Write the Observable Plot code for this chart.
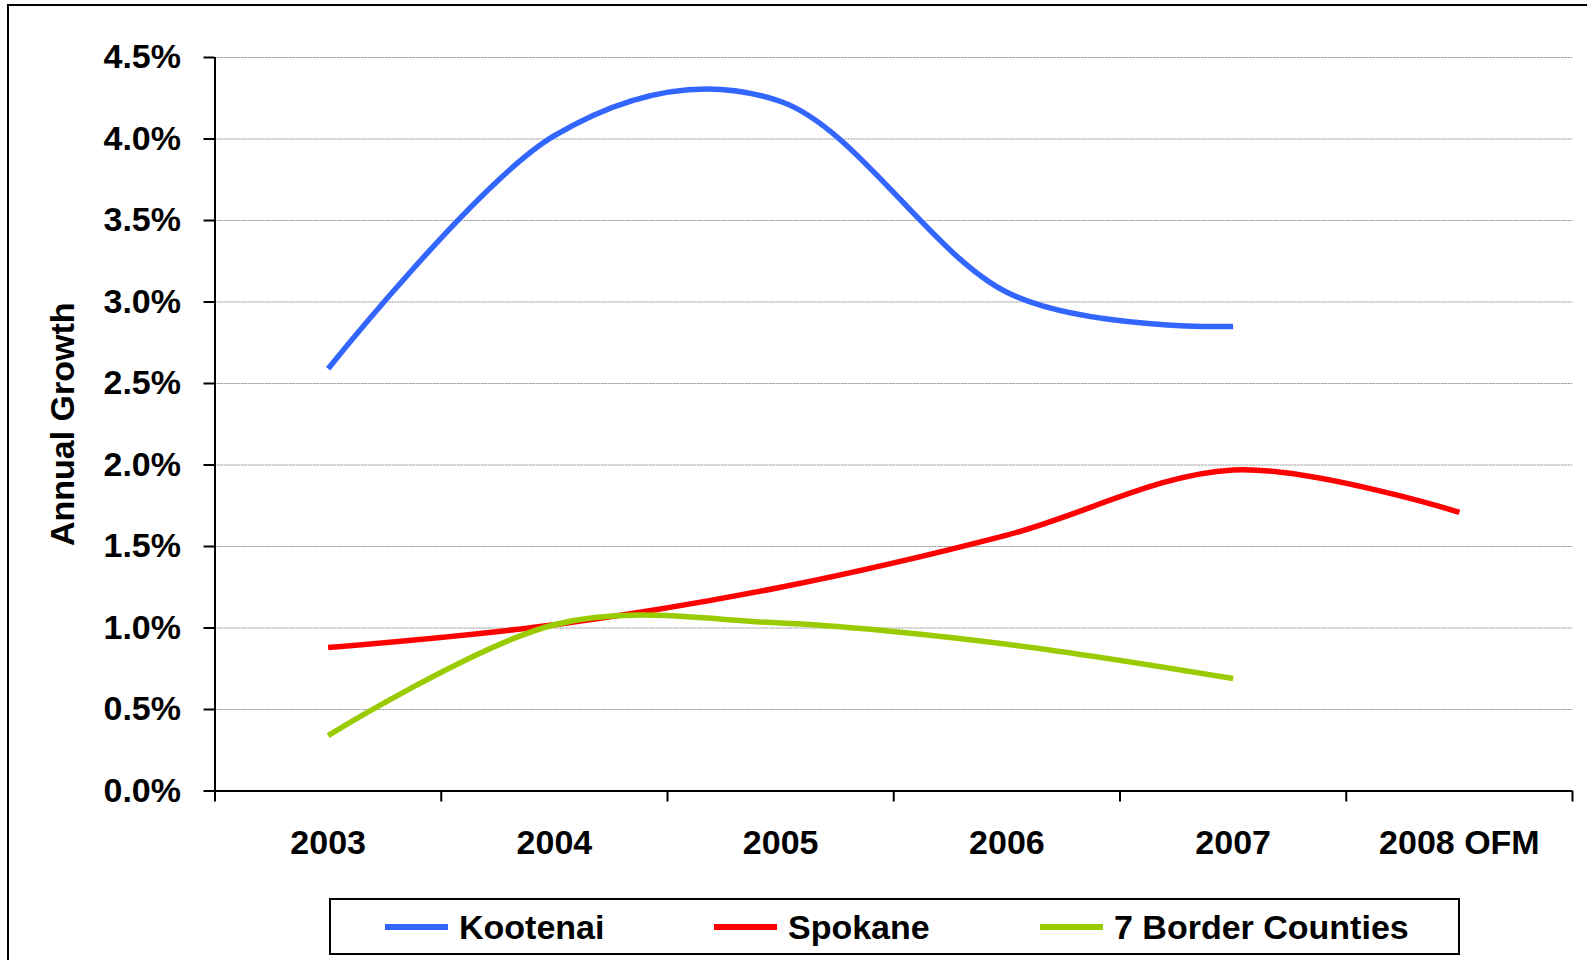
<!DOCTYPE html>
<html>
<head>
<meta charset="utf-8">
<script src="https://cdn.jsdelivr.net/npm/d3@7"></script>
<script src="https://cdn.jsdelivr.net/npm/@observablehq/plot@0.6"></script>
<style>
  html, body { margin: 0; padding: 0; background: #fff; }
  #page { position: relative; width: 1587px; height: 960px; overflow: hidden; background: #fff;
          font-family: "Liberation Sans", Arial, sans-serif; font-weight: bold; }
  #frame { position: absolute; left: 7px; top: 4px; width: 1700px; height: 1100px;
           border: 2px solid #000; box-sizing: border-box; }
  #chart { position: absolute; left: 0; top: 0; }
  #legend { position: absolute; left: 329px; top: 898px; width: 1131px; height: 57px;
            border: 2px solid #000; box-sizing: border-box; background: #fff; }
  .item { position: absolute; top: 0; height: 53px; display: flex; align-items: center; }
  .swatch { width: 63px; height: 6px; margin-right: 11px; }
  .label { font-size: 34px; font-weight: bold; color: #000; line-height: 1; white-space: nowrap; }
</style>
</head>
<body>
<div id="page">
  <div id="frame"></div>
  <div id="chart"></div>
  <div id="legend"></div>
</div>
<script>
// ---- data ----
const years = ["2003", "2004", "2005", "2006", "2007", "2008 OFM"];
const kootenai = [2.59, 4.02, 4.23, 3.06, 2.85, null];
const spokane = [0.88, 1.02, 1.25, 1.57, 1.97, 1.71];
const borderCounties = [0.34, 1.02, 1.03, 0.90, 0.69, null];
const seriesNames = ["Kootenai", "Spokane", "7 Border Counties"];
const seriesColors = ["#3366FF", "#FF0000", "#99CC00"];
const yTicks = [0, 0.5, 1.0, 1.5, 2.0, 2.5, 3.0, 3.5, 4.0, 4.5];
const yTitle = "Annual Growth";

// ---- build table ----
const seriesValues = [kootenai, spokane, borderCounties];
const rows = [];
seriesNames.forEach((name, s) => {
  seriesValues[s].forEach((v, i) => {
    if (v != null) rows.push({series: name, xi: i + 0.5, value: v});
  });
});

const fontFamily = "'Liberation Sans', Arial, sans-serif";

const chart = Plot.plot({
  width: 1587,
  height: 885,
  marginLeft: 214.5,
  marginRight: 15,
  marginTop: 57,
  marginBottom: 94.5,
  x: {type: "linear", domain: [0, years.length]},
  y: {domain: [0, 4.5]},
  color: {domain: seriesNames, range: seriesColors},
  style: {fontFamily, fontWeight: "bold", fontSize: "34px", color: "#000", background: "transparent", overflow: "visible"},
  marks: [
    Plot.ruleY(yTicks.filter(d => d > 0), {stroke: "#8c8c8c", strokeWidth: 1, strokeDasharray: "2,1"}),
    Plot.line(rows, {x: "xi", y: "value", z: "series", stroke: "series", curve: "cardinal",
                     strokeWidth: 5.5, strokeLinecap: "butt", strokeLinejoin: "round"}),
    Plot.ruleX([0], {stroke: "#000", strokeWidth: 2}),
    Plot.ruleY([0], {stroke: "#000", strokeWidth: 2}),
    Plot.axisY({ticks: yTicks, tickSize: 11, tickPadding: 23, strokeWidth: 2,
                tickFormat: d => d.toFixed(1) + "%", fontSize: 34, fontWeight: "bold", label: null}),
    Plot.axisX({ticks: d3.range(0, years.length + 1), tickSize: 11, strokeWidth: 2,
                tickFormat: () => "", label: null}),
    Plot.axisX({ticks: years.map((d, i) => i + 0.5), tickSize: 0, tickPadding: 39,
                tickFormat: v => years[Math.round(v - 0.5)], fontSize: 34, fontWeight: "bold", label: null}),
    Plot.text([yTitle], {text: d => d, frameAnchor: "left", textAnchor: "middle", rotate: -90, dx: -151.5,
                         fontSize: 34, fontWeight: "bold"})
  ]
});
document.getElementById("chart").appendChild(chart);

// ---- legend ----
const legend = document.getElementById("legend");
const legendLeft = [54, 383, 709];
seriesNames.forEach((name, i) => {
  const item = document.createElement("div");
  item.className = "item";
  item.style.left = legendLeft[i] + "px";
  const sw = document.createElement("div");
  sw.className = "swatch";
  sw.style.background = seriesColors[i];
  const lb = document.createElement("span");
  lb.className = "label";
  lb.textContent = name;
  item.appendChild(sw);
  item.appendChild(lb);
  legend.appendChild(item);
});
</script>
</body>
</html>
